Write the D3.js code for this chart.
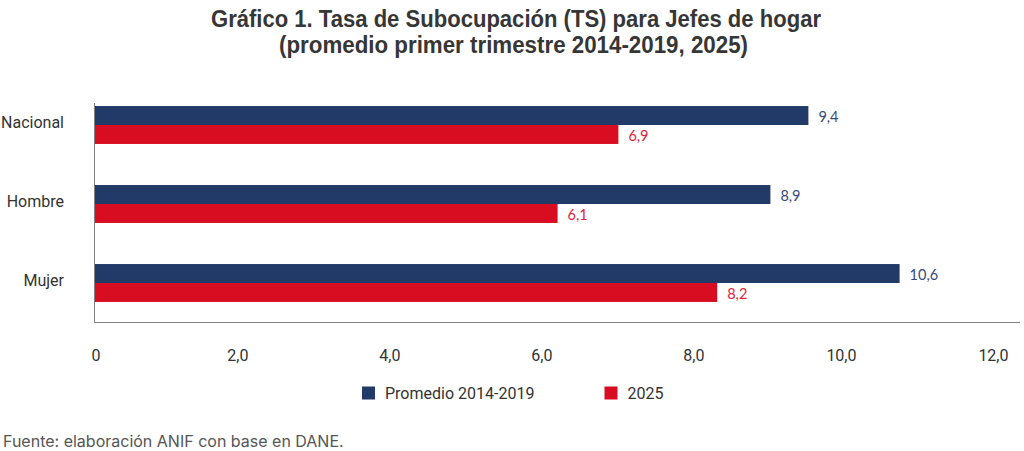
<!DOCTYPE html>
<html>
<head>
<meta charset="utf-8">
<script src="https://cdn.jsdelivr.net/npm/d3@7"></script>
<style>
  body { margin: 0; background: #fff; }
  svg { display: block; }
</style>
</head>
<body>
<div class="chart"></div>
<script>
const width = 1024;
const height = 451;

// data
const categories = ["Nacional", "Hombre", "Mujer"];
const seriesNames = ["Promedio 2014-2019", "2025"];
const promedio = [9.4, 8.9, 10.6];
const valores2025 = [6.9, 6.1, 8.2];
const xTicks = [0, 2, 4, 6, 8, 10, 12];

const colors = ["#213a68", "#d90d21"];
const labelColors = ["#34497a", "#e0233a"];

const svg = d3.select(".chart").append("svg")
    .attr("width", width)
    .attr("height", height);

// title (narrow bold look: Liberation Sans squeezed to the measured width)
const titleFont = "'Liberation Sans', Arial, sans-serif";
svg.append("text")
    .attr("x", 516).attr("y", 27)
    .attr("text-anchor", "middle")
    .attr("font-family", titleFont)
    .attr("font-weight", "bold")
    .attr("font-size", "23.5px")
    .attr("fill", "#363636")
    .attr("textLength", 610)
    .attr("lengthAdjust", "spacingAndGlyphs")
    .text("Gráfico 1. Tasa de Subocupación (TS) para Jefes de hogar");

svg.append("text")
    .attr("x", 513.5).attr("y", 53)
    .attr("text-anchor", "middle")
    .attr("font-family", titleFont)
    .attr("font-weight", "bold")
    .attr("font-size", "23.5px")
    .attr("fill", "#363636")
    .attr("textLength", 469)
    .attr("lengthAdjust", "spacingAndGlyphs")
    .text("(promedio primer trimestre 2014-2019, 2025)");

// scales
const x = d3.scaleLinear().domain([0, 12]).range([94, 1006]);

const y = d3.scaleBand()
    .domain(categories)
    .range([85.5, 322.5])
    .paddingInner(0.52)
    .paddingOuter(0.26);

const ySub = d3.scaleBand()
    .domain(seriesNames)
    .range([0, y.bandwidth()]);

const rows = categories.map((c, i) => ({
    cat: c,
    vals: [
        { s: seriesNames[0], v: promedio[i], k: 0 },
        { s: seriesNames[1], v: valores2025[i], k: 1 }
    ]
}));

// bars
const groups = svg.append("g").selectAll("g")
    .data(rows)
    .enter().append("g")
    .attr("transform", d => "translate(0," + y(d.cat) + ")");

groups.selectAll("rect")
    .data(d => d.vals)
    .enter().append("rect")
    .attr("x", x(0))
    .attr("y", d => ySub(d.s))
    .attr("width", d => x(d.v) - x(0))
    .attr("height", ySub.bandwidth())
    .attr("fill", d => colors[d.k]);

groups.selectAll("text")
    .data(d => d.vals)
    .enter().append("text")
    .attr("x", d => x(d.v) + 10)
    .attr("y", d => ySub(d.s) + ySub.bandwidth() / 2 + 1)
    .attr("dy", "0.35em")
    .attr("font-family", "Lato, 'Open Sans', sans-serif")
    .attr("font-size", "14.5px")
    .attr("fill", d => labelColors[d.k])
    .text(d => d.v.toFixed(1).replace(".", ","));

// axes lines
svg.append("line")
    .attr("x1", 94.5).attr("x2", 94.5)
    .attr("y1", 103).attr("y2", 322.5)
    .attr("stroke", "#808080").attr("stroke-width", 1);

svg.append("line")
    .attr("x1", 94).attr("x2", 1020)
    .attr("y1", 322.5).attr("y2", 322.5)
    .attr("stroke", "#808080").attr("stroke-width", 1);

// category labels
svg.append("g").selectAll("text")
    .data(categories)
    .enter().append("text")
    .attr("x", 64)
    .attr("y", d => y(d) + y.bandwidth() / 2 - 3)
    .attr("dy", "0.35em")
    .attr("text-anchor", "end")
    .attr("font-family", "Roboto, sans-serif")
    .attr("font-size", "16px")
    .attr("fill", "#333")
    .text(d => d);

// x tick labels
const xAxis = d3.axisBottom(x)
    .tickValues(xTicks)
    .tickSize(0)
    .tickPadding(0)
    .tickFormat(d => d === 0 ? "0" : d.toFixed(1).replace(".", ","));

const xg = svg.append("g")
    .attr("transform", "translate(0,361)")
    .call(xAxis);
xg.select(".domain").remove();
xg.selectAll("text")
    .attr("y", 0)
    .attr("dy", 0)
    .attr("x", d => d === 0 ? 6 : 2)
    .attr("text-anchor", "end")
    .attr("font-family", "Roboto, sans-serif")
    .attr("font-size", "16px")
    .attr("fill", "#333");

// legend
const legendX = [362, 604.5];
const legend = svg.append("g").selectAll("g")
    .data(seriesNames)
    .enter().append("g")
    .attr("transform", (d, i) => "translate(" + legendX[i] + ",386.5)");

legend.append("rect")
    .attr("width", 13).attr("height", 13)
    .attr("fill", (d, i) => colors[i]);

legend.append("text")
    .attr("x", 23)
    .attr("y", 6.5)
    .attr("dy", "0.35em")
    .attr("font-family", "Roboto, sans-serif")
    .attr("font-size", "16px")
    .attr("fill", "#333")
    .text(d => d);

// source
svg.append("text")
    .attr("x", 3).attr("y", 447)
    .attr("font-family", "Inter, Roboto, sans-serif")
    .attr("font-size", "16px")
    .attr("fill", "#555")
    .text("Fuente: elaboración ANIF con base en DANE.");
</script>
</body>
</html>
